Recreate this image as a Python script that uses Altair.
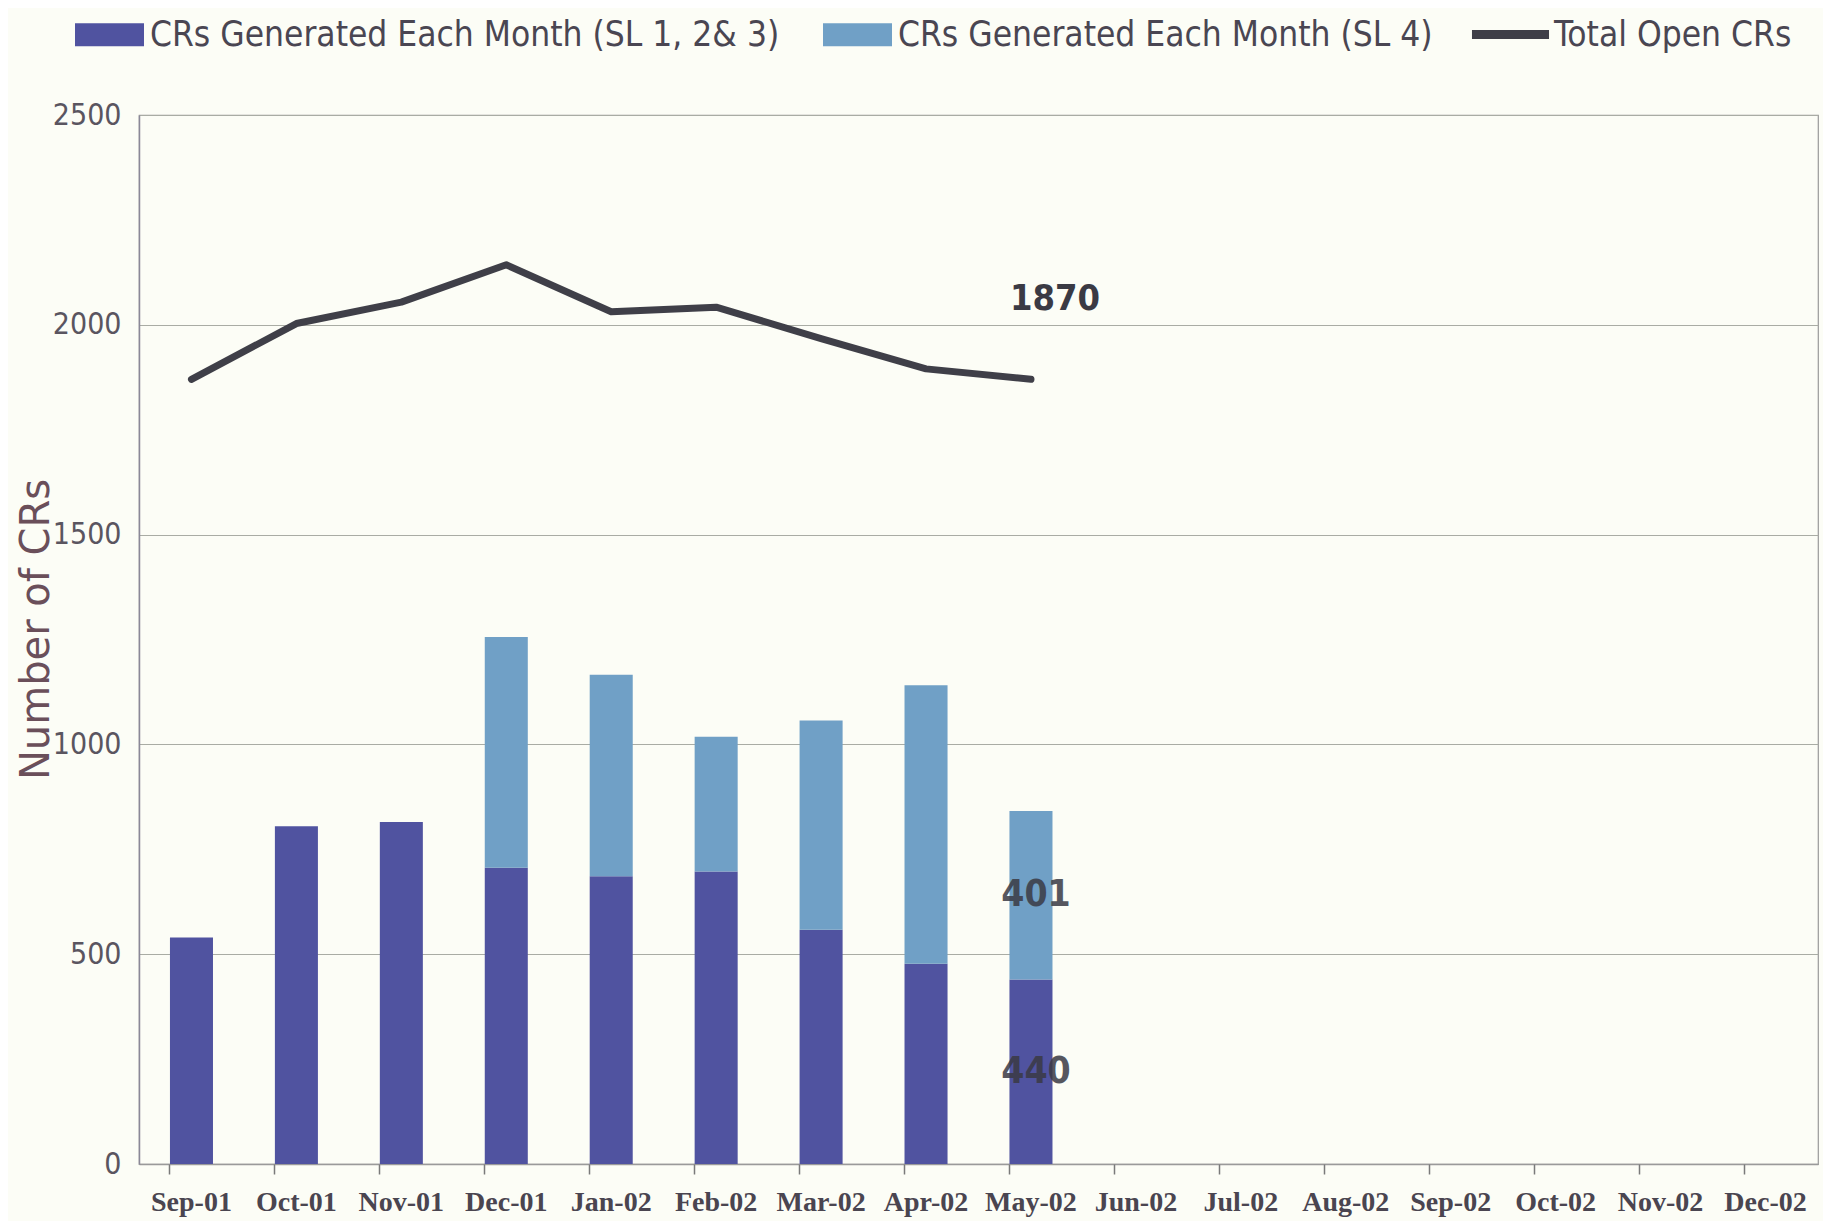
import altair as alt
import pandas as pd

months = ["Sep-01", "Oct-01", "Nov-01", "Dec-01", "Jan-02", "Feb-02", "Mar-02", "Apr-02",
          "May-02", "Jun-02", "Jul-02", "Aug-02", "Sep-02", "Oct-02", "Nov-02", "Dec-02"]
data_months = ["Sep-01", "Oct-01", "Nov-01", "Dec-01", "Jan-02", "Feb-02", "Mar-02", "Apr-02", "May-02"]
sl123 = [540, 805, 815, 706, 686, 697, 558, 477, 440]
sl4 = [0, 0, 0, 550, 480, 321, 499, 664, 401]
total_open = [1870, 2003, 2054, 2143, 2031, 2042, 1967, 1895, 1870]

S1 = "CRs Generated Each Month (SL 1, 2& 3)"
S2 = "CRs Generated Each Month (SL 4)"
S3 = "Total Open CRs"

rows = []
for m, a, b in zip(data_months, sl123, sl4):
    rows.append({"month": m, "series": S1, "value": a, "order": 0})
    rows.append({"month": m, "series": S2, "value": b, "order": 1})
bars_df = pd.DataFrame(rows)
line_df = pd.DataFrame({"month": data_months, "total": total_open, "series": S3})

last = data_months[-1]
seg_df = pd.DataFrame({
    "month": [last, last],
    "mid": [sl123[-1] / 2, sl123[-1] + sl4[-1] / 2],
    "label": [str(sl123[-1]), str(sl4[-1])],
})
tot_df = pd.DataFrame({"month": [last], "total": [total_open[-1]], "label": [str(total_open[-1])]})

NARROW = "'DejaVu Sans Condensed', 'Liberation Sans Narrow', Roboto, sans-serif"


def xs():
    return alt.Scale(domain=months, paddingInner=0.59, paddingOuter=0.295)


yscale = alt.Scale(domain=[0, 2500])

x_main = alt.X("month:N", scale=xs(), sort=months, title=None,
               axis=alt.Axis(orient="bottom", labelAngle=0, ticks=False, labelFont="Liberation Serif",
                             labelFontWeight="bold", labelFontSize=28, labelColor="#4a4550",
                             labelPadding=24, domainColor="#9a9a9a", domainWidth=1.5,
                             labelOverlap=False, grid=False))

y_main = alt.Y("value:Q", stack="zero", scale=yscale, title="Number of CRs",
               axis=alt.Axis(values=[0, 500, 1000, 1500, 2000, 2500], ticks=False, format="d",
                             labelFont=NARROW, labelFontSize=30, labelColor="#5a5560",
                             labelPadding=18, gridColor="#a9aca4", gridWidth=1.2,
                             domainColor="#8a8898", domainWidth=1.5,
                             titleFont="DejaVu Sans", titleFontSize=40, titleFontWeight="normal",
                             titleColor="#6a4f5a", titleX=-103, titleY=514, titleBaseline="middle"))

rect_path = "M-3,-1H3V1H-3Z"
bars = alt.Chart(bars_df).mark_bar().encode(
    x=x_main,
    y=y_main,
    order=alt.Order("order:Q"),
    color=alt.Color("series:N",
                    scale=alt.Scale(domain=[S1, S2], range=["#5053a0", "#70a0c6"]),
                    legend=alt.Legend(title=None, orient="none", direction="horizontal",
                                      legendX=-47, legendY=-98,
                                      symbolType=rect_path, symbolSize=529, symbolOpacity=1,
                                      symbolStrokeWidth=0,
                                      labelFont=NARROW, labelFontSize=35, labelColor="#4a4652",
                                      labelOffset=23, columnPadding=43, labelLimit=900)),
)

# tick marks at band edges (separate, identical x scale)
ticks = alt.Chart(bars_df).mark_bar(opacity=0).encode(
    x=alt.X("month:N", scale=xs(), sort=months, title=None,
            axis=alt.Axis(orient="bottom", bandPosition=0, labels=False, domain=False, grid=False,
                          ticks=True, tickSize=10, tickColor="#7a7a7a", tickWidth=1.5)),
    y=alt.Y("value:Q", scale=yscale),
)

line = alt.Chart(line_df).mark_line(strokeWidth=7, strokeCap="round", strokeJoin="round").encode(
    x=alt.X("month:N", scale=xs(), sort=months, axis=None),
    y=alt.Y("total:Q", scale=yscale),
    stroke=alt.Stroke("series:N", scale=alt.Scale(domain=[S3], range=["#3f3f48"]),
                      legend=alt.Legend(title=None, orient="none", direction="horizontal",
                                        legendX=1354, legendY=-98,
                                        symbolType="M-3.3,0H3.3", symbolSize=545, symbolStrokeWidth=9,
                                        labelFont=NARROW, labelFontSize=35, labelColor="#4a4652",
                                        labelOffset=26, labelLimit=900)),
)

seg_labels = alt.Chart(seg_df).mark_text(font=NARROW, fontWeight="bold", fontSize=37,
                                          color="#3a3a44", opacity=0.85, dx=5).encode(
    x=alt.X("month:N", scale=xs(), sort=months, axis=None),
    y=alt.Y("mid:Q", scale=yscale),
    text="label:N",
)

tot_label = alt.Chart(tot_df).mark_text(font=NARROW, fontWeight="bold", fontSize=36,
                                         color="#3a3a44", dx=24, dy=-80).encode(
    x=alt.X("month:N", scale=xs(), sort=months, axis=None),
    y=alt.Y("total:Q", scale=yscale),
    text="label:N",
)

chart = alt.layer(bars, ticks, line, seg_labels, tot_label).resolve_scale(
    x="independent"
).properties(
    width=1679, height=1049,
    padding={"left": 8, "top": 9, "right": 5, "bottom": 5},
    background="#fcfdf6",
).configure_view(stroke="#9a9a9a", strokeWidth=1.2)

chart.save("out.html", embed_options={"renderer": "svg", "actions": False})
